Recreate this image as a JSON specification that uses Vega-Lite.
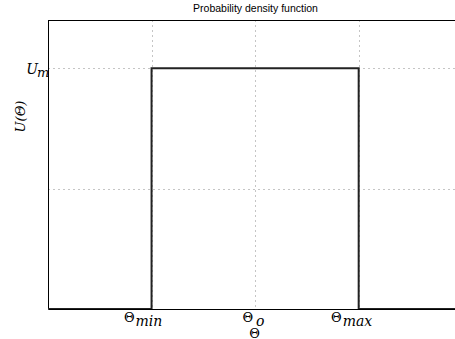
{
  "$schema": "https://vega.github.io/schema/vega-lite/v6.json",
  "autosize": {"type": "none"},
  "padding": {"left": 48, "top": 20, "right": 0, "bottom": 30},
  "width": 407,
  "height": 289,
  "background": "white",
  "title": {"text": "Probability density function", "font": "Liberation Sans", "fontSize": 10.5, "fontWeight": "normal", "color": "#000000", "offset": 6, "dx": 4},
  "config": {"view": {"stroke": null}},
  "layer": [
    {
      "data": {"values": [
        {"i": 0, "theta": 0, "u": 0},
        {"i": 1, "theta": 1, "u": 0},
        {"i": 2, "theta": 1, "u": 2},
        {"i": 3, "theta": 3, "u": 2},
        {"i": 4, "theta": 3, "u": 0},
        {"i": 5, "theta": 3.93, "u": 0}
      ]},
      "mark": {"type": "line", "color": "#222222", "strokeWidth": 2, "clip": true},
      "encoding": {
        "x": {"field": "theta", "type": "quantitative", "scale": {"domain": [0, 3.93], "nice": false, "zero": false},
          "axis": {"values": [1, 2, 3], "labels": false,
            "grid": true, "gridDash": [1, 4], "gridColor": "#8a8a8a", "gridWidth": 1,
            "domainColor": "#000000", "domainWidth": 1, "ticks": false,
            "title": "Θ", "titleFont": "DejaVu Serif", "titleFontSize": 13, "titleFontWeight": "normal", "titleColor": "#000000",
            "titleX": 206, "titleY": 28, "titleBaseline": "alphabetic", "titleAlign": "center"}},
        "y": {"field": "u", "type": "quantitative", "scale": {"domain": [0, 2.4], "nice": false},
          "axis": {"values": [1, 2], "labels": false,
            "grid": true, "gridDash": [1, 4], "gridColor": "#8a8a8a", "gridWidth": 1,
            "domainColor": "#000000", "domainWidth": 1, "ticks": false,
            "title": "U(Θ)", "titleFont": "DejaVu Serif", "titleFontStyle": "italic", "titleFontSize": 13, "titleFontWeight": "normal", "titleColor": "#000000",
            "titleX": -28, "titleY": 96, "titleBaseline": "middle", "titleAlign": "center"}},
        "order": {"field": "i", "type": "quantitative"}
      }
    },
    {
      "data": {"values": [{"top": 2.4}]},
      "mark": {"type": "rule", "color": "#000000", "strokeWidth": 1, "yOffset": 0.5},
      "encoding": {"y": {"field": "top", "type": "quantitative"}}
    },
    {
      "data": {"values": [
        {"theta": 1, "base": "Θ", "sub": "min"},
        {"theta": 2, "base": "Θ", "sub": "o"},
        {"theta": 3, "base": "Θ", "sub": "max"}
      ]},
      "layer": [
        {
          "mark": {"type": "text", "font": "DejaVu Serif", "fontSize": 13, "color": "#000000", "align": "right", "baseline": "alphabetic",
            "dy": 13, "dx": {"expr": "datum.theta == 2 ? -2 : -17"}, "clip": false},
          "encoding": {
            "x": {"field": "theta", "type": "quantitative"},
            "y": {"datum": 0},
            "text": {"field": "base"}
          }
        },
        {
          "mark": {"type": "text", "font": "DejaVu Serif", "fontStyle": "italic", "fontSize": 14, "color": "#000000", "align": "left", "baseline": "alphabetic",
            "dy": 17, "dx": {"expr": "datum.theta == 2 ? 1 : -16"}, "clip": false},
          "encoding": {
            "x": {"field": "theta", "type": "quantitative"},
            "y": {"datum": 0},
            "text": {"field": "sub"}
          }
        }
      ]
    },
    {
      "data": {"values": [{"u": 2, "base": "U", "sub": "m"}]},
      "layer": [
        {
          "mark": {"type": "text", "font": "DejaVu Serif", "fontStyle": "italic", "fontSize": 14, "color": "#000000", "align": "right", "baseline": "alphabetic",
            "dx": -10, "dy": 6, "clip": false},
          "encoding": {
            "x": {"datum": 0},
            "y": {"field": "u", "type": "quantitative"},
            "text": {"field": "base"}
          }
        },
        {
          "mark": {"type": "text", "font": "DejaVu Serif", "fontStyle": "italic", "fontSize": 13, "color": "#000000", "align": "left", "baseline": "alphabetic",
            "dx": -11, "dy": 9, "clip": false},
          "encoding": {
            "x": {"datum": 0},
            "y": {"field": "u", "type": "quantitative"},
            "text": {"field": "sub"}
          }
        }
      ]
    }
  ]
}
